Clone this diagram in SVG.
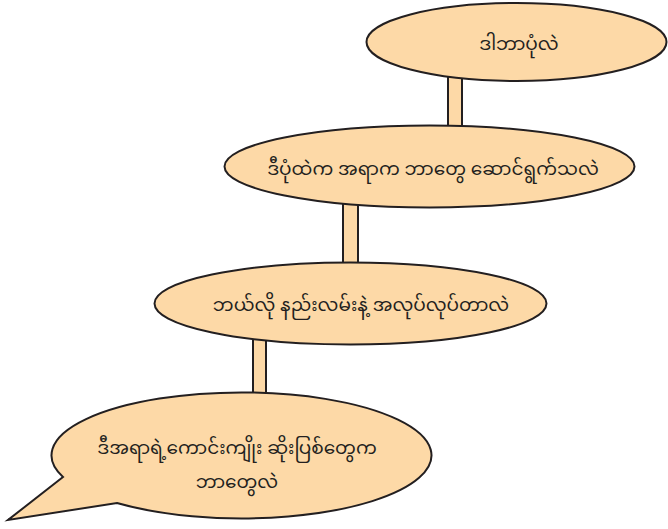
<svg xmlns="http://www.w3.org/2000/svg" width="668" height="529" viewBox="0 0 668 529">
<style>
.shape{fill:#FDD9A7;stroke:#231F20;stroke-width:2}
.lbl{font-family:"Noto Sans Myanmar","Padauk","Myanmar Text","Noto Sans",sans-serif;font-size:18.5px;fill:#231F20;text-anchor:middle}
</style>
<rect width="668" height="529" fill="#FFFFFF"/>
<g id="connectors">
<rect class="shape" x="448" y="70" width="14" height="65"/>
<rect class="shape" x="343" y="195" width="15" height="77"/>
<rect class="shape" x="253" y="335" width="13" height="67"/>
</g>
<g id="node1">
<ellipse class="shape" cx="516.5" cy="42" rx="150" ry="39"/>
<text class="lbl" x="519" y="50">ဒါဘာပုံလဲ</text>
</g>
<g id="node2">
<ellipse class="shape" cx="429.5" cy="166.5" rx="205" ry="41"/>
<text class="lbl" x="433" y="175">ဒီပုံထဲက အရာက ဘာတွေ ဆောင်ရွက်သလဲ</text>
</g>
<g id="node3">
<ellipse class="shape" cx="350.5" cy="303.5" rx="196" ry="41"/>
<text class="lbl" x="361" y="311">ဘယ်လို နည်းလမ်းနဲ့ အလုပ်လုပ်တာလဲ</text>
</g>
<g id="node4">
<path class="shape" d="M 63 477 L 8 520 L 117 503 A 190 63 0 1 0 63 477 Z"/>
<text class="lbl" x="237" y="454">ဒီအရာရဲ့ကောင်းကျိုး ဆိုးပြစ်တွေက</text>
<text class="lbl" x="237" y="488">ဘာတွေလဲ</text>
</g>
</svg>
